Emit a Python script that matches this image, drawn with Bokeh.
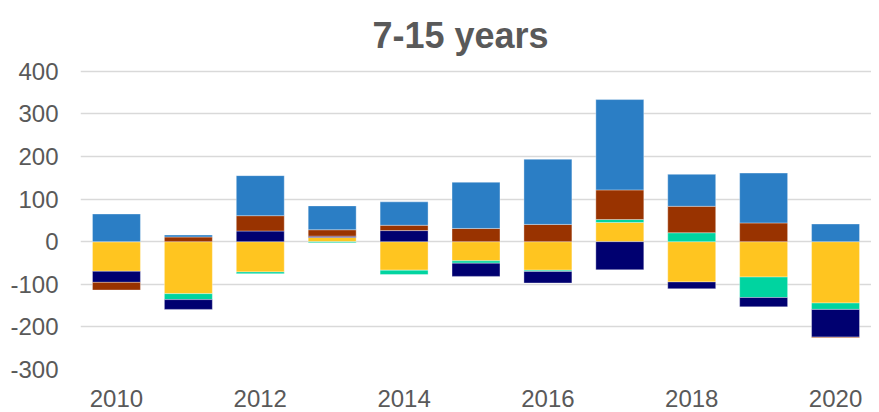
from bokeh.plotting import figure
from bokeh.models import ColumnDataSource, Range1d, FixedTicker, CustomJSTickFormatter, Label
from bokeh.embed import file_html
from bokeh.resources import INLINE

# ---- data ----
title_text = "7-15 years"
years = [2010, 2011, 2012, 2013, 2014, 2015, 2016, 2017, 2018, 2019, 2020]
tick_years = [2010, 2012, 2014, 2016, 2018, 2020]
y_ticks = [-300, -200, -100, 0, 100, 200, 300, 400]
# stacking order (bottom to top): yellow, teal, navy, brown, blue
yellow = [-69.5, -122, -71, 10, -67, -45, -67, 45, -94.5, -83, -144]
teal = [0, -14, -4, -2.5, -10, -5.5, -3, 7, 21, -48, -15]
navy = [-26, -23, 25, 3, 26, -31, -27, -66, -16, -22, -65]
brown = [-18, 11, 36, 15, 12.5, 31, 40.5, 69.5, 62, 44, -1.5]
blue = [65, 4.7, 94, 56, 55, 108.5, 153, 212, 75, 117, 41.5]

series = [yellow, teal, navy, brown, blue]
colors = ["#FFC520", "#00D4A0", "#000070", "#993300", "#2B7EC5"]

# frame spans the whole height above the x axis; the space above 400 holds the title
p = figure(width=871, height=412, output_backend="svg", toolbar_location=None,
           x_range=Range1d(2009.5, 2020.5), y_range=Range1d(-300, 566),
           min_border_left=80, min_border_right=0, min_border_top=0,
           min_border_bottom=43)
p.outline_line_color = None
p.background_fill_color = "white"

pos = [0.0] * len(years)
neg = [0.0] * len(years)
for vals, col in zip(series, colors):
    bottoms, tops = [], []
    for i, v in enumerate(vals):
        if v >= 0:
            bottoms.append(pos[i]); tops.append(pos[i] + v); pos[i] += v
        else:
            bottoms.append(neg[i]); tops.append(neg[i] + v); neg[i] += v
    src = ColumnDataSource(dict(x=years, bottom=bottoms, top=tops))
    p.vbar(x="x", bottom="bottom", top="top", width=0.667, source=src,
           fill_color=col, line_color="white", line_alpha=0.35, line_width=1)

p.xgrid.grid_line_color = None
p.ygrid.grid_line_color = "#D9D9D9"
p.ygrid.grid_line_width = 1.6
p.ygrid.ticker = FixedTicker(ticks=y_ticks)
p.ygrid.level = "underlay"

p.xaxis.ticker = FixedTicker(ticks=tick_years)
p.yaxis.ticker = FixedTicker(ticks=y_ticks)
p.yaxis.formatter = CustomJSTickFormatter(code="return tick.toFixed(0);")
p.xaxis.formatter = CustomJSTickFormatter(code="return tick.toFixed(0);")
for ax in (p.xaxis[0], p.yaxis[0]):
    ax.axis_line_color = None
    ax.major_tick_line_color = None
    ax.minor_tick_line_color = None
    ax.major_tick_out = 0
    ax.major_tick_in = 0
    ax.minor_tick_out = 0
    ax.major_label_text_font = "Liberation Sans"
    ax.major_label_text_font_size = "24px"
    ax.major_label_text_color = "#595959"
p.xaxis.major_label_standoff = 20
p.yaxis.major_label_standoff = 22

title = Label(x=2014.785, y=484, text=title_text, text_align="center",
              text_baseline="alphabetic", text_font="Liberation Sans",
              text_font_size="36px", text_font_style="bold", text_color="#595959")
p.add_layout(title)

open("out.html", "w").write(file_html(p, INLINE))
